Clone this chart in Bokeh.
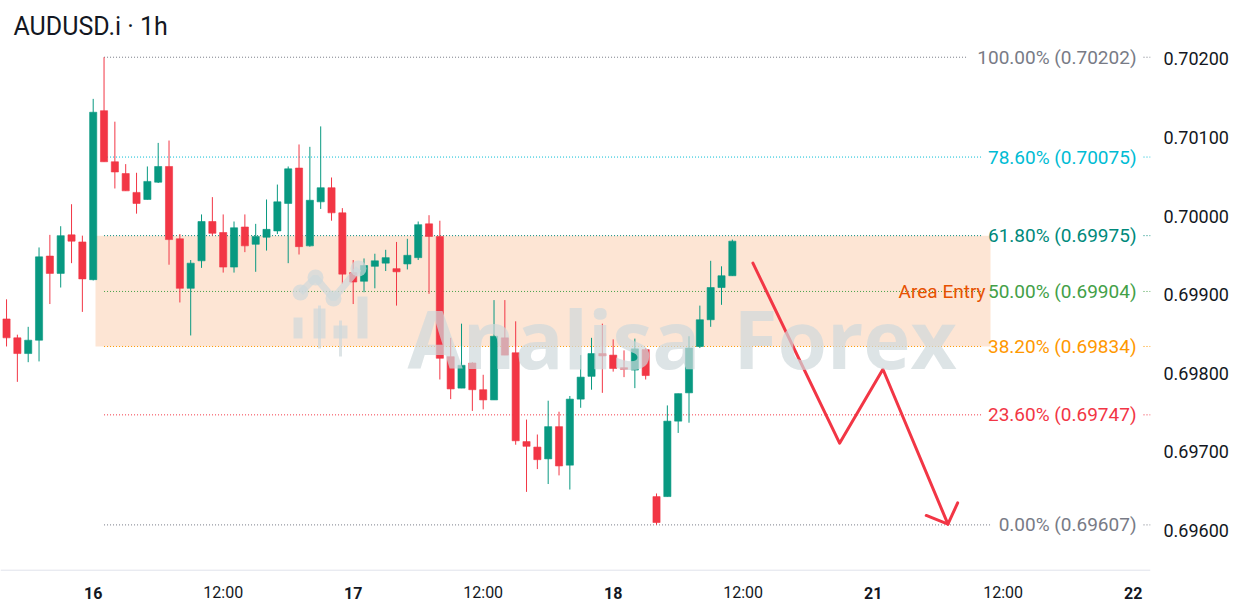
from bokeh.plotting import figure
from bokeh.models import Range1d, FixedTicker, Label, ColumnDataSource, PrintfTickFormatter
from bokeh.embed import file_html
from bokeh.resources import INLINE
from bokeh.core.properties import value

# ---------------- data ----------------
opens = [0.69869, 0.69845, 0.69825, 0.69842, 0.69949, 0.69927, 0.69976, 0.69967, 0.69919, 0.70134,
         0.70069, 0.70054, 0.70030, 0.70021, 0.70043, 0.70063, 0.69971, 0.69908, 0.69943, 0.69993,
         0.69979, 0.69935, 0.69986, 0.69964, 0.69973, 0.69981, 0.70016, 0.70061, 0.69962, 0.70018,
         0.70036, 0.70004, 0.69928, 0.69917, 0.69936, 0.69940, 0.69933, 0.69939, 0.69947, 0.69990,
         0.69974, 0.69821, 0.69781, 0.69813, 0.69779, 0.69766, 0.69845, 0.69826, 0.69713, 0.69706,
         0.69691, 0.69732, 0.69683, 0.69767, 0.69796, 0.69825, 0.69823, 0.69807, 0.69804, 0.69830,
         0.69643, 0.69643, 0.69739, 0.69775, 0.69834, 0.69868, 0.69909, 0.69924]
highs = [0.69894, 0.69849, 0.69859, 0.69960, 0.69976, 0.69987, 0.70015, 0.69975, 0.70149, 0.70202,
         0.70120, 0.70066, 0.70055, 0.70063, 0.70093, 0.70096, 0.69977, 0.69944, 0.70002, 0.70024,
         0.70002, 0.69993, 0.70002, 0.69990, 0.70021, 0.70040, 0.70063, 0.70091, 0.70088, 0.70114,
         0.70049, 0.70010, 0.69944, 0.69946, 0.69952, 0.69957, 0.69967, 0.69971, 0.69993, 0.70001,
         0.69994, 0.69845, 0.69863, 0.69814, 0.69798, 0.69893, 0.69893, 0.69866, 0.69741, 0.69722,
         0.69765, 0.69751, 0.69771, 0.69823, 0.69845, 0.69863, 0.69843, 0.69829, 0.69844, 0.69832,
         0.69647, 0.69759, 0.69774, 0.69847, 0.69886, 0.69943, 0.69936, 0.69970]
lows = [0.69834, 0.69789, 0.69814, 0.69815, 0.69888, 0.69909, 0.69940, 0.69878, 0.69918, 0.70069,
        0.70035, 0.70032, 0.70003, 0.70021, 0.70042, 0.69938, 0.69890, 0.69848, 0.69934, 0.69975,
        0.69928, 0.69928, 0.69954, 0.69929, 0.69956, 0.69977, 0.69940, 0.69951, 0.69961, 0.70009,
        0.69994, 0.69914, 0.69888, 0.69903, 0.69908, 0.69930, 0.69886, 0.69932, 0.69944, 0.69901,
        0.69792, 0.69767, 0.69781, 0.69752, 0.69754, 0.69766, 0.69823, 0.69709, 0.69649, 0.69678,
        0.69659, 0.69670, 0.69652, 0.69756, 0.69779, 0.69775, 0.69802, 0.69795, 0.69781, 0.69792,
        0.69607, 0.69643, 0.69724, 0.69737, 0.69832, 0.69859, 0.69887, 0.69924]
closes = [0.69845, 0.69825, 0.69842, 0.69948, 0.69927, 0.69975, 0.69968, 0.69920, 0.70132, 0.70069,
          0.70056, 0.70032, 0.70016, 0.70044, 0.70063, 0.69970, 0.69908, 0.69940, 0.69993, 0.69978,
          0.69935, 0.69985, 0.69962, 0.69974, 0.69983, 0.70018, 0.70060, 0.69961, 0.70020, 0.70036,
          0.70004, 0.69926, 0.69916, 0.69937, 0.69943, 0.69947, 0.69929, 0.69950, 0.69989, 0.69974,
          0.69819, 0.69780, 0.69810, 0.69779, 0.69766, 0.69847, 0.69823, 0.69714, 0.69707, 0.69690,
          0.69732, 0.69682, 0.69767, 0.69795, 0.69825, 0.69822, 0.69806, 0.69805, 0.69831, 0.69797,
          0.69610, 0.69739, 0.69774, 0.69832, 0.69868, 0.69909, 0.69924, 0.69968]

fib_pcts = ["100.00%", "78.60%", "61.80%", "50.00%", "38.20%", "23.60%", "0.00%"]
fib_prices = [0.70202, 0.70075, 0.69975, 0.69904, 0.69834, 0.69747, 0.69607]
fib_colors = ["#787b86", "#00bcd4", "#00897b", "#43a047", "#ff9800", "#f23645", "#787b86"]
fib_start_index = 9

zone_top = 0.69975
zone_bottom = 0.69834
zone_label = "Area Entry"

x_tick_pos = [8, 20, 32, 44, 56, 68, 80, 92, 104]
x_tick_labels = ["16", "12:00", "17", "12:00", "18", "12:00", "21", "12:00", "22"]
y_ticks = [0.696, 0.697, 0.698, 0.699, 0.700, 0.701, 0.702]

arrow_x = [68.9, 76.9, 80.9, 86.9]
arrow_y = [0.69940, 0.69711, 0.69805, 0.69608]
arrow_head_x = [84.9, 86.9, 87.8]
arrow_head_y = [0.69619, 0.69608, 0.69635]

title_text = "AUDUSD.i \u00b7 1h"

# ------------- page-pixel helpers (layout only) -------------
def ix(px):
    return 8 + (px - 92.7) / 10.833

def py(pyv):
    return 0.702 - (pyv - 58.3) / 78600.0

UP = "#089981"
DOWN = "#f23645"
TXT = "#131722"

FRAME_W = 1150
FRAME_H = 606
p = figure(width=FRAME_W + 91, height=FRAME_H,
           x_range=Range1d(ix(0), ix(FRAME_W)), y_range=Range1d(py(FRAME_H), py(0)),
           x_axis_location=None, y_axis_location="right",
           output_backend="svg", toolbar_location=None,
           min_border_left=0, min_border_top=0, min_border_right=91, min_border_bottom=0)
p.outline_line_color = None
p.xgrid.visible = False
p.ygrid.visible = False
p.background_fill_color = "white"
p.border_fill_color = "white"

ya = p.yaxis[0]
ya.ticker = FixedTicker(ticks=y_ticks)
ya.formatter = PrintfTickFormatter(format="%.5f")
ya.axis_line_color = None
ya.major_tick_line_color = None
ya.minor_tick_line_color = None
ya.major_tick_out = 0
ya.major_tick_in = 0
ya.minor_tick_out = 0
ya.minor_tick_in = 0
ya.major_label_standoff = 13
ya.major_label_text_font = "Roboto"
ya.major_label_text_font_size = "18px"
ya.major_label_text_color = TXT

# time-scale separator line
p.segment(x0=[ix(0)], y0=[py(569.7)], x1=[ix(FRAME_W)], y1=[py(569.7)],
          line_color="#e0e3eb", line_width=1)

# entry zone
p.quad(left=[ix(95)], right=[ix(990)], top=[zone_top], bottom=[zone_bottom],
       fill_color="#fde5d4", line_color=None)

# fib lines
line_end_px = [967, 982, 981, 982, 982, 982, 990]
for price, col, endpx in zip(fib_prices, fib_colors, line_end_px):
    p.segment(x0=[fib_start_index], y0=[price], x1=[ix(endpx)], y1=[price],
              line_color=col, line_width=1, line_dash="1 2")
    p.segment(x0=[ix(1143)], y0=[price], x1=[ix(1152)], y1=[price],
              line_color=col, line_width=1, line_dash="1 2")

# candles
idx = list(range(len(opens)))
cols = [UP if c >= o else DOWN for o, c in zip(opens, closes)]
tops = [max(o, c) for o, c in zip(opens, closes)]
bots = [min(o, c) for o, c in zip(opens, closes)]
src = ColumnDataSource(dict(x=idx, h=highs, l=lows, t=tops, b=bots, c=cols))
p.segment(x0="x", y0="h", x1="x", y1="l", source=src, line_color="c", line_width=1)
p.vbar(x="x", width=0.66, top="t", bottom="b", source=src, fill_color="c", line_color="c",
       line_width=0.6)

# arrow
p.line(arrow_x, arrow_y, line_color="#f23645", line_width=3, line_join="round", line_cap="round")
p.line(arrow_head_x, arrow_head_y, line_color="#f23645", line_width=3, line_join="round",
       line_cap="round")

# watermark
WM = "#cfd8dc"
WA = 0.7
p.text(x=[ix(407)], y=[py(336.7)], text=["Analisa"], text_font=value("Open Sans"),
       text_font_style="bold", text_font_size="80px", text_color=WM, text_alpha=WA,
       text_baseline="alphabetic", text_align="left")
p.text(x=[ix(733)], y=[py(336.7)], text=["Forex"], text_font=value("Open Sans"),
       text_font_style="bold", text_font_size="80px", text_color=WM, text_alpha=WA,
       text_baseline="alphabetic", text_align="left")
# logo
p.line([ix(300), ix(315), ix(333), ix(358)], [py(292), py(277), py(298), py(268)],
       line_color=WM, line_alpha=WA, line_width=7)
p.scatter([ix(300), ix(315), ix(333), ix(358)], [py(292), py(277), py(298), py(268)],
          size=16, fill_color=WM, fill_alpha=WA, line_color=None)
p.quad(left=[ix(293), ix(313), ix(333), ix(357)], right=[ix(302), ix(325), ix(347), ix(367)],
       top=[py(317), py(308), py(325), py(296)], bottom=[py(338), py(338), py(338), py(338)],
       fill_color=WM, fill_alpha=WA, line_color=None)
p.segment(x0=[ix(319), ix(340)], y0=[py(305), py(320)], x1=[ix(319), ix(340)], y1=[py(348), py(356)],
          line_color=WM, line_alpha=WA, line_width=3)

# labels
for pct, price, col in zip(fib_pcts, fib_prices, fib_colors):
    p.add_layout(Label(x=ix(1136), y=price, text=f"{pct} ({price:.5f})", text_align="right",
                       text_baseline="middle", text_font="Roboto", text_font_size="19px",
                       text_color=col))
p.add_layout(Label(x=ix(985), y=fib_prices[3], text=zone_label, text_align="right",
                   text_baseline="middle", text_font="Roboto", text_font_size="19px",
                   text_color="#e65100"))
p.add_layout(Label(x=ix(13), y=py(26), text=title_text, text_align="left",
                   text_baseline="middle", text_font="Roboto", text_font_size="25px",
                   text_color=TXT))

# time-scale labels
day_x = [t for t, lab in zip(x_tick_pos, x_tick_labels) if ":" not in lab]
day_lab = [lab for lab in x_tick_labels if ":" not in lab]
hr_x = [t for t, lab in zip(x_tick_pos, x_tick_labels) if ":" in lab]
hr_lab = [lab for lab in x_tick_labels if ":" in lab]
p.text(x=day_x, y=[py(592)] * len(day_x), text=day_lab, text_font=value("Roboto"),
       text_font_size="16px", text_font_style="bold", text_color=TXT,
       text_align="center", text_baseline="middle")
p.text(x=hr_x, y=[py(592)] * len(hr_x), text=hr_lab, text_font=value("Roboto"),
       text_font_size="16px", text_color=TXT, text_align="center", text_baseline="middle")

open("out.html", "w").write(file_html(p, INLINE))
